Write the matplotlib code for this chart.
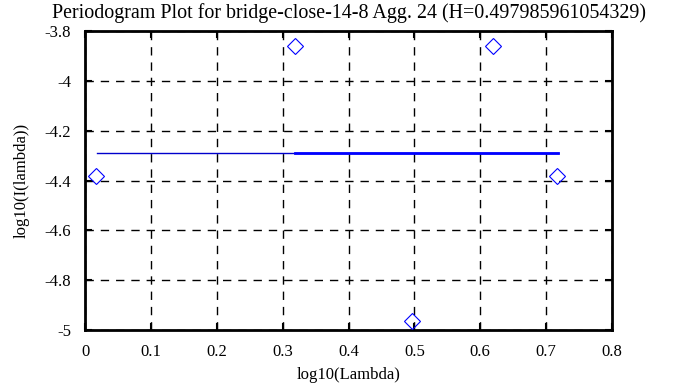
import matplotlib
matplotlib.use("Agg")
from matplotlib import pyplot as plt

plt.rcParams['font.family'] = ['Liberation Serif', 'DejaVu Serif']
plt.rcParams['font.size'] = 12

# periodogram points
px = [0.017, 0.319, 0.619, 0.496, 0.717]
py = [-4.381, -3.86, -3.86, -4.964, -4.381]

# fitted lines
fit_x = [0.018, 0.7175]
fit_y = [-4.291, -4.291]
fit2_x = [0.319, 0.7175]
fit2_y = [-4.291, -4.291]

xticks = [0, 0.1, 0.2, 0.3, 0.4, 0.5, 0.6, 0.7, 0.8]
xlabels = ['0', '0.1', '0.2', '0.3', '0.4', '0.5', '0.6', '0.7', '0.8']
yticks = [-5, -4.8, -4.6, -4.4, -4.2, -4, -3.8]
ylabels = ['-5', '-4.8', '-4.6', '-4.4', '-4.2', '-4', '-3.8']

fig = plt.figure(figsize=(6.95, 3.87), dpi=100)
ax = fig.add_axes([85/695, 1-330/387, 527/695, 299/387])

ax.plot(fit_x, fit_y, color='#0000cc', lw=1.0, zorder=3)
ax.plot(fit2_x, fit2_y, color='#0000ff', lw=2.0, zorder=3)
ax.plot(px, py, 'D', ms=8.5, mfc='none', mec='#0000ff', mew=0.8, zorder=4)

ax.set_xlim(0, 0.8)
ax.set_ylim(-5, -3.8)
ax.set_xticks(xticks)
ax.set_xticklabels(xlabels)
ax.set_yticks(yticks)
ax.set_yticklabels(ylabels)
ax.tick_params(direction='in', top=True, right=True, length=5, width=1.5)
ax.tick_params(axis='x', pad=10)
ax.tick_params(axis='y', pad=10)
ax.grid(True, color='black', linestyle=(0, (6, 5)), lw=1)
for s in ax.spines.values():
    s.set_linewidth(2)

ax.set_title('Periodogram Plot for bridge-close-14-8 Agg. 24 (H=0.497985961054329)', pad=9.5)
ax.set_xlabel('log10(Lambda)', labelpad=5)
ax.set_ylabel('log10(I(lambda))', labelpad=11)

fig.savefig('out.png', dpi=100)
